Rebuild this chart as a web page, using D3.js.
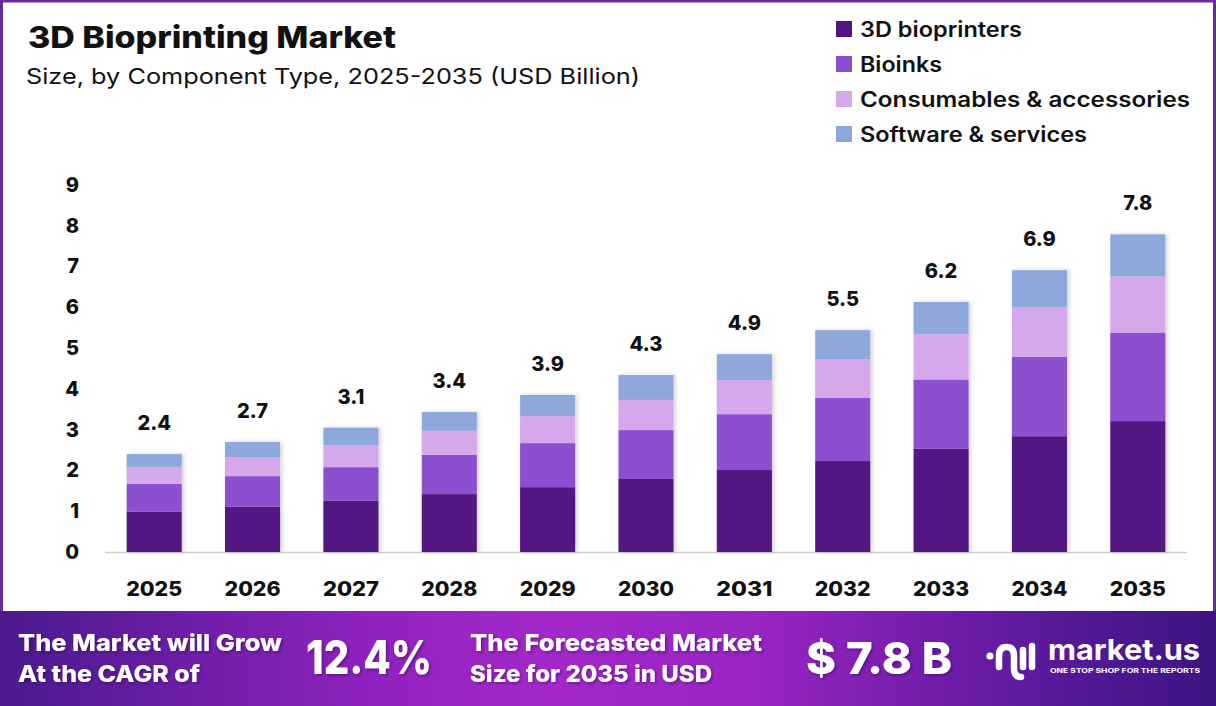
<!DOCTYPE html>
<html>
<head>
<meta charset="utf-8">
<script src="https://cdn.jsdelivr.net/npm/d3@7"></script>
<style>
  html, body { margin: 0; padding: 0; background: #fff; }
  svg { display: block; }
  text { font-family: "Inter", "Open Sans", sans-serif; }
</style>
</head>
<body>
<svg id="chart" width="1216" height="706"></svg>
<script>
// ---- Data ----
const years = ["2025","2026","2027","2028","2029","2030","2031","2032","2033","2034","2035"];
const seriesNames = ["3D bioprinters","Bioinks","Consumables & accessories","Software & services"];
const bioprinters = [0.99, 1.11, 1.26, 1.42, 1.59, 1.79, 2.01, 2.23, 2.53, 2.84, 3.21];
const bioinks     = [0.68, 0.75, 0.82, 0.96, 1.08, 1.20, 1.37, 1.55, 1.70, 1.95, 2.17];
const consumables = [0.42, 0.46, 0.54, 0.59, 0.66, 0.74, 0.84, 0.95, 1.11, 1.22, 1.38];
const software    = [0.31, 0.38, 0.43, 0.46, 0.52, 0.61, 0.63, 0.71, 0.79, 0.90, 1.03];
const totals      = ["2.4","2.7","3.1","3.4","3.9","4.3","4.9","5.5","6.2","6.9","7.8"];
const yTicks = [0,1,2,3,4,5,6,7,8,9];
const colors = ["#521683","#8c4fcf","#d4a8ea","#8fa8dc"];
const legendWidths = [162, 82, 330, 227];

const svg = d3.select("#chart");
const W = 1216, H = 706;

// Defs
const defs = svg.append("defs");
const grad = defs.append("linearGradient").attr("id","footGrad").attr("x1","0").attr("x2","1").attr("y1","0").attr("y2","0");
[["0%","#4a1a8e"],["30%","#8f22bf"],["45%","#a428c9"],["62%","#9a24c4"],["85%","#5c1a9c"],["100%","#3c1482"]]
  .forEach(([o,c]) => grad.append("stop").attr("offset",o).attr("stop-color",c));
const sh = defs.append("filter").attr("id","shadow").attr("x","-20%").attr("y","-20%").attr("width","140%").attr("height","140%");
sh.append("feDropShadow").attr("dx",2).attr("dy",0).attr("stdDeviation",2).attr("flood-color","#000").attr("flood-opacity",0.18);
const tsh = defs.append("filter").attr("id","tshadow").attr("x","-10%").attr("y","-30%").attr("width","120%").attr("height","160%");
tsh.append("feDropShadow").attr("dx",1.5).attr("dy",1.5).attr("stdDeviation",1.5).attr("flood-color","#200040").attr("flood-opacity",0.45);

// Background & border
svg.append("rect").attr("x",0).attr("y",0).attr("width",W).attr("height",H).attr("fill","#fff");
svg.append("rect").attr("x",1.5).attr("y",1).attr("width",W-3).attr("height",612).attr("fill","none")
  .attr("stroke","#6b2a9c").attr("stroke-width",3);

// Scales
const x = d3.scaleBand().domain(years).range([105, 1187]).paddingInner(0.44).paddingOuter(0.22);
const y = d3.scaleLinear().domain([0, 9]).range([552, 185]);

// Stack
const rows = years.map((yr, i) => ({
  year: yr,
  [seriesNames[0]]: bioprinters[i],
  [seriesNames[1]]: bioinks[i],
  [seriesNames[2]]: consumables[i],
  [seriesNames[3]]: software[i]
}));
const stacked = d3.stack().keys(seriesNames)(rows);

// Axis baseline
svg.append("line").attr("x1",105).attr("x2",1187).attr("y1",y(0)+0.5).attr("y2",y(0)+0.5)
  .attr("stroke","#d0d0d0").attr("stroke-width",1.5);

// Bars
const barG = svg.append("g").attr("filter","url(#shadow)");
stacked.forEach((layer, li) => {
  barG.append("g").attr("fill", colors[li])
    .selectAll("rect").data(layer).join("rect")
    .attr("x", d => x(d.data.year))
    .attr("width", x.bandwidth())
    .attr("y", d => y(d[1]))
    .attr("height", d => y(d[0]) - y(d[1]));
});

// Value labels
const topLayer = stacked[stacked.length-1];
svg.append("g").selectAll("text").data(topLayer).join("text")
  .attr("x", d => x(d.data.year) + x.bandwidth()/2)
  .attr("y", (d,i) => y(d[1]) - 24)
  .attr("text-anchor","middle")
  .attr("font-size",20).attr("font-weight",800).attr("fill","#111")
  .text((d,i) => totals[i]);

// Y axis
const yAxis = d3.axisLeft(y).tickValues(yTicks).tickSize(0).tickPadding(0).tickFormat(d3.format("d"));
const yg = svg.append("g").attr("transform","translate(79,0)").call(yAxis);
yg.select(".domain").remove();
yg.selectAll("text").attr("font-size",20).attr("font-weight",800).attr("fill","#111")
  .attr("font-family","Inter, sans-serif");

// X axis
const xAxis = d3.axisBottom(x).tickSize(0).tickPadding(0);
const xg = svg.append("g").attr("transform","translate(0,582)").call(xAxis);
xg.select(".domain").remove();
xg.selectAll("text").attr("font-size",20).attr("font-weight",800).attr("fill","#111")
  .attr("font-family","Inter, sans-serif")
  .attr("textLength",56).attr("lengthAdjust","spacingAndGlyphs").attr("x",-28).attr("text-anchor","start");

// Title
svg.append("text").attr("x",28).attr("y",48).attr("font-size",30).attr("font-weight",800).attr("fill","#111")
  .attr("textLength",368).attr("lengthAdjust","spacingAndGlyphs")
  .text("3D Bioprinting Market");
svg.append("text").attr("x",26).attr("y",84).attr("font-size",22).attr("font-weight",400).attr("fill","#111")
  .attr("textLength",614).attr("lengthAdjust","spacingAndGlyphs")
  .text("Size, by Component Type, 2025-2035 (USD Billion)");

// Legend
const leg = svg.append("g").selectAll("g").data(seriesNames).join("g")
  .attr("transform",(d,i) => `translate(836,${29 + i*35})`);
leg.append("rect").attr("x",0).attr("y",-8).attr("width",16).attr("height",16).attr("fill",(d,i)=>colors[i]);
leg.append("text").attr("x",24).attr("y",0).attr("dy","0.36em")
  .attr("font-size",21).attr("font-weight",600).attr("fill","#111")
  .attr("textLength",(d,i)=>legendWidths[i]).attr("lengthAdjust","spacingAndGlyphs")
  .text(d=>d);

// Footer
svg.append("rect").attr("x",0).attr("y",611).attr("width",W).attr("height",H-611).attr("fill","url(#footGrad)");
const ft = svg.append("g").attr("fill","#fff").attr("font-weight",800).attr("filter","url(#tshadow)");
ft.append("text").attr("x",18).attr("y",651).attr("font-size",23).attr("textLength",264).attr("lengthAdjust","spacingAndGlyphs").text("The Market will Grow");
ft.append("text").attr("x",18).attr("y",682).attr("font-size",23).attr("textLength",182).attr("lengthAdjust","spacingAndGlyphs").text("At the CAGR of");
ft.append("text").attr("x",306).attr("y",674).attr("font-size",46).attr("textLength",126).attr("lengthAdjust","spacingAndGlyphs").text("12.4%");
ft.append("text").attr("x",470).attr("y",651).attr("font-size",23).attr("textLength",292).attr("lengthAdjust","spacingAndGlyphs").text("The Forecasted Market");
ft.append("text").attr("x",470).attr("y",682).attr("font-size",23).attr("textLength",242).attr("lengthAdjust","spacingAndGlyphs").text("Size for 2035 in USD");
ft.append("text").attr("x",806).attr("y",674).attr("font-size",44).attr("textLength",146).attr("lengthAdjust","spacingAndGlyphs").text("$ 7.8 B");

// Logo
const logo = svg.append("g").attr("fill","none").attr("stroke","#fff").attr("stroke-linecap","round").attr("stroke-width",6.5);
logo.append("circle").attr("cx",990).attr("cy",656).attr("r",3.6).attr("fill","#fff").attr("stroke","none");
logo.append("path").attr("d","M999,667 L999,656 Q999,647 1006.5,647 Q1014,647 1014,656 L1014,668 Q1014,677 1021,677");
logo.append("line").attr("x1",1023).attr("y1",650).attr("x2",1023).attr("y2",667);
logo.append("line").attr("x1",1032).attr("y1",646).attr("x2",1032).attr("y2",667);
svg.append("text").attr("x",1048).attr("y",660).attr("font-size",29).attr("font-weight",700).attr("fill","#fff")
  .attr("textLength",152).attr("lengthAdjust","spacingAndGlyphs").text("market.us");
svg.append("text").attr("x",1050).attr("y",673).attr("font-size",6).attr("font-weight",700).attr("fill","#fff")
  .attr("textLength",150).attr("lengthAdjust","spacingAndGlyphs").text("ONE STOP SHOP FOR THE REPORTS");
</script>
</body>
</html>
